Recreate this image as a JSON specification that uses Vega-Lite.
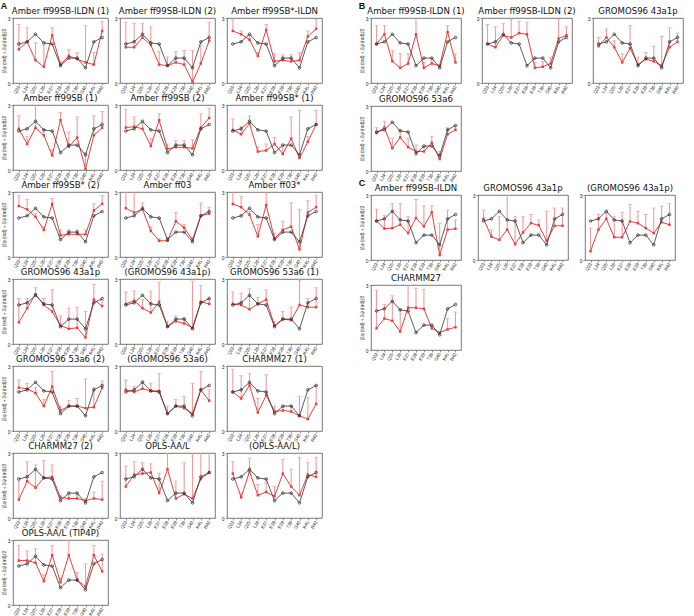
{
"$schema": "https://vega.github.io/schema/vega-lite/v6.json",
"padding": {"left": 0, "top": 2, "right": 0, "bottom": 0},
"config": {
 "font": "Liberation Sans",
 "view": {"stroke": "#555555", "strokeWidth": 0.8},
 "axis": {"labelFontSize": 4.5, "labelColor": "#222222", "tickSize": 2, "tickColor": "#555555", "tickWidth": 0.6, "domain": false, "grid": false, "labelPadding": 1, "labelOverlap": false, "titleFontSize": 4.5, "titleFontWeight": "normal", "titlePadding": 1, "titleColor": "#333333"},
 "axisY": {"labelFontSize": 5},
 "header": {"labelFontSize": 9.5, "labelFont": "Liberation Sans Narrow, DejaVu Sans Condensed, sans-serif", "labelColor": "#111111", "labelPadding": 1},
 "title": {"fontSize": 9, "fontWeight": "bold", "anchor": "start", "offset": -6, "color": "#111111"}
},
"data": {"values": [
{"p":"A|Amber ff99SB-ILDN (1)","r":"Q23","v":1.55,"hi":2.7,"e":1.8},
{"p":"A|Amber ff99SB-ILDN (1)","r":"L24","v":1.9,"hi":2.55,"e":1.9},
{"p":"A|Amber ff99SB-ILDN (1)","r":"Q25","v":1.05,"hi":1.85,"e":2.25},
{"p":"A|Amber ff99SB-ILDN (1)","r":"L26","v":0.75,"hi":1.75,"e":1.85},
{"p":"A|Amber ff99SB-ILDN (1)","r":"E27","v":2.2,"hi":2.55,"e":1.8},
{"p":"A|Amber ff99SB-ILDN (1)","r":"E28","v":0.85,"hi":1.0,"e":0.8},
{"p":"A|Amber ff99SB-ILDN (1)","r":"E29","v":1.25,"hi":1.55,"e":1.15},
{"p":"A|Amber ff99SB-ILDN (1)","r":"T36","v":1.1,"hi":1.4,"e":1.15},
{"p":"A|Amber ff99SB-ILDN (1)","r":"G40","v":0.95,"hi":2.65,"e":0.7},
{"p":"A|Amber ff99SB-ILDN (1)","r":"K41","v":0.85,"hi":1.4,"e":1.9},
{"p":"A|Amber ff99SB-ILDN (1)","r":"R42","v":2.4,"hi":2.85,"e":2.1},
{"p":"A|Amber ff99SB-ILDN (2)","r":"Q23","v":1.65,"hi":2.8,"e":1.8},
{"p":"A|Amber ff99SB-ILDN (2)","r":"L24","v":1.65,"hi":2.75,"e":1.9},
{"p":"A|Amber ff99SB-ILDN (2)","r":"Q25","v":2.1,"hi":2.75,"e":2.25},
{"p":"A|Amber ff99SB-ILDN (2)","r":"L26","v":1.75,"hi":2.6,"e":1.85},
{"p":"A|Amber ff99SB-ILDN (2)","r":"E27","v":0.85,"hi":1.45,"e":1.8},
{"p":"A|Amber ff99SB-ILDN (2)","r":"E28","v":0.8,"hi":1.2,"e":0.8},
{"p":"A|Amber ff99SB-ILDN (2)","r":"E29","v":0.95,"hi":1.45,"e":1.15},
{"p":"A|Amber ff99SB-ILDN (2)","r":"T36","v":0.85,"hi":1.5,"e":1.15},
{"p":"A|Amber ff99SB-ILDN (2)","r":"G40","v":0.05,"hi":1.5,"e":0.7},
{"p":"A|Amber ff99SB-ILDN (2)","r":"K41","v":0.9,"hi":1.75,"e":1.9},
{"p":"A|Amber ff99SB-ILDN (2)","r":"R42","v":1.95,"hi":2.8,"e":2.1},
{"p":"A|Amber ff99SB*-ILDN","r":"Q23","v":2.4,"hi":2.95,"e":1.8},
{"p":"A|Amber ff99SB*-ILDN","r":"L24","v":2.25,"hi":2.4,"e":1.9},
{"p":"A|Amber ff99SB*-ILDN","r":"Q25","v":2.0,"hi":2.2,"e":2.25},
{"p":"A|Amber ff99SB*-ILDN","r":"L26","v":1.25,"hi":1.4,"e":1.85},
{"p":"A|Amber ff99SB*-ILDN","r":"E27","v":2.45,"hi":2.7,"e":1.8},
{"p":"A|Amber ff99SB*-ILDN","r":"E28","v":1.0,"hi":1.35,"e":0.8},
{"p":"A|Amber ff99SB*-ILDN","r":"E29","v":1.05,"hi":1.3,"e":1.15},
{"p":"A|Amber ff99SB*-ILDN","r":"T36","v":1.0,"hi":1.3,"e":1.15},
{"p":"A|Amber ff99SB*-ILDN","r":"G40","v":1.05,"hi":1.4,"e":0.7},
{"p":"A|Amber ff99SB*-ILDN","r":"K41","v":2.15,"hi":2.4,"e":1.9},
{"p":"A|Amber ff99SB*-ILDN","r":"R42","v":2.5,"hi":2.95,"e":2.1},
{"p":"A|Amber ff99SB (1)","r":"Q23","v":1.9,"hi":2.5,"e":1.8},
{"p":"A|Amber ff99SB (1)","r":"L24","v":1.2,"hi":1.55,"e":1.9},
{"p":"A|Amber ff99SB (1)","r":"Q25","v":1.95,"hi":3.1,"e":2.25},
{"p":"A|Amber ff99SB (1)","r":"L26","v":1.6,"hi":1.85,"e":1.85},
{"p":"A|Amber ff99SB (1)","r":"E27","v":0.67,"hi":0.95,"e":1.8},
{"p":"A|Amber ff99SB (1)","r":"E28","v":2.3,"hi":2.65,"e":0.8},
{"p":"A|Amber ff99SB (1)","r":"E29","v":1.07,"hi":1.75,"e":1.15},
{"p":"A|Amber ff99SB (1)","r":"T36","v":1.5,"hi":2.45,"e":1.15},
{"p":"A|Amber ff99SB (1)","r":"G40","v":0.05,"hi":0.8,"e":0.7},
{"p":"A|Amber ff99SB (1)","r":"K41","v":1.6,"hi":2.5,"e":1.9},
{"p":"A|Amber ff99SB (1)","r":"R42","v":1.95,"hi":2.7,"e":2.1},
{"p":"A|Amber ff99SB (2)","r":"Q23","v":1.96,"hi":2.8,"e":1.8},
{"p":"A|Amber ff99SB (2)","r":"L24","v":2.0,"hi":2.45,"e":1.9},
{"p":"A|Amber ff99SB (2)","r":"Q25","v":1.9,"hi":2.15,"e":2.25},
{"p":"A|Amber ff99SB (2)","r":"L26","v":1.1,"hi":1.45,"e":1.85},
{"p":"A|Amber ff99SB (2)","r":"E27","v":2.3,"hi":2.6,"e":1.8},
{"p":"A|Amber ff99SB (2)","r":"E28","v":0.97,"hi":1.2,"e":0.8},
{"p":"A|Amber ff99SB (2)","r":"E29","v":1.05,"hi":1.35,"e":1.15},
{"p":"A|Amber ff99SB (2)","r":"T36","v":1.05,"hi":1.35,"e":1.15},
{"p":"A|Amber ff99SB (2)","r":"G40","v":1.0,"hi":1.4,"e":0.7},
{"p":"A|Amber ff99SB (2)","r":"K41","v":1.95,"hi":2.6,"e":1.9},
{"p":"A|Amber ff99SB (2)","r":"R42","v":2.4,"hi":2.85,"e":2.1},
{"p":"A|Amber ff99SB* (1)","r":"Q23","v":1.85,"hi":2.35,"e":1.8},
{"p":"A|Amber ff99SB* (1)","r":"L24","v":1.65,"hi":2.0,"e":1.9},
{"p":"A|Amber ff99SB* (1)","r":"Q25","v":2.15,"hi":2.5,"e":2.25},
{"p":"A|Amber ff99SB* (1)","r":"L26","v":0.85,"hi":1.05,"e":1.85},
{"p":"A|Amber ff99SB* (1)","r":"E27","v":0.9,"hi":1.2,"e":1.8},
{"p":"A|Amber ff99SB* (1)","r":"E28","v":1.2,"hi":1.5,"e":0.8},
{"p":"A|Amber ff99SB* (1)","r":"E29","v":0.75,"hi":1.05,"e":1.15},
{"p":"A|Amber ff99SB* (1)","r":"T36","v":1.45,"hi":2.45,"e":1.15},
{"p":"A|Amber ff99SB* (1)","r":"G40","v":0.55,"hi":2.75,"e":0.7},
{"p":"A|Amber ff99SB* (1)","r":"K41","v":1.3,"hi":1.55,"e":1.9},
{"p":"A|Amber ff99SB* (1)","r":"R42","v":2.1,"hi":2.75,"e":2.1},
{"p":"A|Amber ff99SB* (2)","r":"Q23","v":2.35,"hi":2.85,"e":1.8},
{"p":"A|Amber ff99SB* (2)","r":"L24","v":2.2,"hi":2.65,"e":1.9},
{"p":"A|Amber ff99SB* (2)","r":"Q25","v":1.85,"hi":2.0,"e":2.25},
{"p":"A|Amber ff99SB* (2)","r":"L26","v":1.25,"hi":1.4,"e":1.85},
{"p":"A|Amber ff99SB* (2)","r":"E27","v":2.45,"hi":2.7,"e":1.8},
{"p":"A|Amber ff99SB* (2)","r":"E28","v":1.0,"hi":1.25,"e":0.8},
{"p":"A|Amber ff99SB* (2)","r":"E29","v":1.05,"hi":1.25,"e":1.15},
{"p":"A|Amber ff99SB* (2)","r":"T36","v":1.05,"hi":1.25,"e":1.15},
{"p":"A|Amber ff99SB* (2)","r":"G40","v":1.05,"hi":1.25,"e":0.7},
{"p":"A|Amber ff99SB* (2)","r":"K41","v":2.15,"hi":2.45,"e":1.9},
{"p":"A|Amber ff99SB* (2)","r":"R42","v":2.45,"hi":2.85,"e":2.1},
{"p":"A|Amber ff03","r":"Q23","v":2.25,"hi":3.1,"e":1.8},
{"p":"A|Amber ff03","r":"L24","v":2.05,"hi":3.1,"e":1.9},
{"p":"A|Amber ff03","r":"Q25","v":2.2,"hi":2.5,"e":2.25},
{"p":"A|Amber ff03","r":"L26","v":1.2,"hi":1.4,"e":1.85},
{"p":"A|Amber ff03","r":"E27","v":0.75,"hi":0.85,"e":1.8},
{"p":"A|Amber ff03","r":"E28","v":0.75,"hi":0.9,"e":0.8},
{"p":"A|Amber ff03","r":"E29","v":1.65,"hi":2.05,"e":1.15},
{"p":"A|Amber ff03","r":"T36","v":1.35,"hi":1.5,"e":1.15},
{"p":"A|Amber ff03","r":"G40","v":0.8,"hi":0.9,"e":0.7},
{"p":"A|Amber ff03","r":"K41","v":1.9,"hi":2.5,"e":1.9},
{"p":"A|Amber ff03","r":"R42","v":2.0,"hi":2.3,"e":2.1},
{"p":"A|Amber ff03*","r":"Q23","v":2.45,"hi":3.1,"e":1.8},
{"p":"A|Amber ff03*","r":"L24","v":2.3,"hi":2.8,"e":1.9},
{"p":"A|Amber ff03*","r":"Q25","v":1.95,"hi":2.1,"e":2.25},
{"p":"A|Amber ff03*","r":"L26","v":0.95,"hi":1.5,"e":1.85},
{"p":"A|Amber ff03*","r":"E27","v":2.4,"hi":3.1,"e":1.8},
{"p":"A|Amber ff03*","r":"E28","v":0.85,"hi":1.1,"e":0.8},
{"p":"A|Amber ff03*","r":"E29","v":1.25,"hi":1.65,"e":1.15},
{"p":"A|Amber ff03*","r":"T36","v":1.4,"hi":2.5,"e":1.15},
{"p":"A|Amber ff03*","r":"G40","v":0.35,"hi":2.2,"e":0.7},
{"p":"A|Amber ff03*","r":"K41","v":2.05,"hi":2.6,"e":1.9},
{"p":"A|Amber ff03*","r":"R42","v":2.3,"hi":2.85,"e":2.1},
{"p":"A|GROMOS96 43a1p","r":"Q23","v":1.0,"hi":2.1,"e":1.8},
{"p":"A|GROMOS96 43a1p","r":"L24","v":1.65,"hi":2.1,"e":1.9},
{"p":"A|GROMOS96 43a1p","r":"Q25","v":2.3,"hi":2.6,"e":2.25},
{"p":"A|GROMOS96 43a1p","r":"L26","v":1.8,"hi":2.1,"e":1.85},
{"p":"A|GROMOS96 43a1p","r":"E27","v":1.5,"hi":2.5,"e":1.8},
{"p":"A|GROMOS96 43a1p","r":"E28","v":0.85,"hi":1.3,"e":0.8},
{"p":"A|GROMOS96 43a1p","r":"E29","v":0.7,"hi":1.65,"e":1.15},
{"p":"A|GROMOS96 43a1p","r":"T36","v":0.75,"hi":1.7,"e":1.15},
{"p":"A|GROMOS96 43a1p","r":"G40","v":0.3,"hi":1.5,"e":0.7},
{"p":"A|GROMOS96 43a1p","r":"K41","v":2.05,"hi":2.75,"e":1.9},
{"p":"A|GROMOS96 43a1p","r":"R42","v":1.75,"hi":2.0,"e":2.1},
{"p":"A|(GROMOS96 43a1p)","r":"Q23","v":1.85,"hi":2.4,"e":1.8},
{"p":"A|(GROMOS96 43a1p)","r":"L24","v":2.0,"hi":2.45,"e":1.9},
{"p":"A|(GROMOS96 43a1p)","r":"Q25","v":1.65,"hi":2.05,"e":2.25},
{"p":"A|(GROMOS96 43a1p)","r":"L26","v":1.45,"hi":2.45,"e":1.85},
{"p":"A|(GROMOS96 43a1p)","r":"E27","v":1.95,"hi":2.85,"e":1.8},
{"p":"A|(GROMOS96 43a1p)","r":"E28","v":0.8,"hi":1.05,"e":0.8},
{"p":"A|(GROMOS96 43a1p)","r":"E29","v":1.05,"hi":1.3,"e":1.15},
{"p":"A|(GROMOS96 43a1p)","r":"T36","v":0.95,"hi":1.2,"e":1.15},
{"p":"A|(GROMOS96 43a1p)","r":"G40","v":0.75,"hi":2.9,"e":0.7},
{"p":"A|(GROMOS96 43a1p)","r":"K41","v":1.95,"hi":2.7,"e":1.9},
{"p":"A|(GROMOS96 43a1p)","r":"R42","v":1.85,"hi":2.1,"e":2.1},
{"p":"A|GROMOS96 53a6 (1)","r":"Q23","v":1.85,"hi":2.4,"e":1.8},
{"p":"A|GROMOS96 53a6 (1)","r":"L24","v":1.8,"hi":2.35,"e":1.9},
{"p":"A|GROMOS96 53a6 (1)","r":"Q25","v":1.6,"hi":2.55,"e":2.25},
{"p":"A|GROMOS96 53a6 (1)","r":"L26","v":1.85,"hi":2.15,"e":1.85},
{"p":"A|GROMOS96 53a6 (1)","r":"E27","v":2.05,"hi":2.5,"e":1.8},
{"p":"A|GROMOS96 53a6 (1)","r":"E28","v":0.85,"hi":1.05,"e":0.8},
{"p":"A|GROMOS96 53a6 (1)","r":"E29","v":1.15,"hi":1.5,"e":1.15},
{"p":"A|GROMOS96 53a6 (1)","r":"T36","v":1.1,"hi":1.7,"e":1.15},
{"p":"A|GROMOS96 53a6 (1)","r":"G40","v":1.8,"hi":2.95,"e":0.7},
{"p":"A|GROMOS96 53a6 (1)","r":"K41","v":1.7,"hi":2.1,"e":1.9},
{"p":"A|GROMOS96 53a6 (1)","r":"R42","v":1.7,"hi":2.6,"e":2.1},
{"p":"A|GROMOS96 53a6 (2)","r":"Q23","v":2.0,"hi":2.35,"e":1.8},
{"p":"A|GROMOS96 53a6 (2)","r":"L24","v":1.95,"hi":2.2,"e":1.9},
{"p":"A|GROMOS96 53a6 (2)","r":"Q25","v":1.75,"hi":2.0,"e":2.25},
{"p":"A|GROMOS96 53a6 (2)","r":"L26","v":1.15,"hi":1.45,"e":1.85},
{"p":"A|GROMOS96 53a6 (2)","r":"E27","v":2.05,"hi":2.75,"e":1.8},
{"p":"A|GROMOS96 53a6 (2)","r":"E28","v":0.95,"hi":1.15,"e":0.8},
{"p":"A|GROMOS96 53a6 (2)","r":"E29","v":1.15,"hi":1.4,"e":1.15},
{"p":"A|GROMOS96 53a6 (2)","r":"T36","v":1.15,"hi":1.5,"e":1.15},
{"p":"A|GROMOS96 53a6 (2)","r":"G40","v":1.05,"hi":2.4,"e":0.7},
{"p":"A|GROMOS96 53a6 (2)","r":"K41","v":1.1,"hi":2.0,"e":1.9},
{"p":"A|GROMOS96 53a6 (2)","r":"R42","v":2.0,"hi":2.3,"e":2.1},
{"p":"A|(GROMOS96 53a6)","r":"Q23","v":1.9,"hi":2.35,"e":1.8},
{"p":"A|(GROMOS96 53a6)","r":"L24","v":1.8,"hi":2.05,"e":1.9},
{"p":"A|(GROMOS96 53a6)","r":"Q25","v":1.95,"hi":2.3,"e":2.25},
{"p":"A|(GROMOS96 53a6)","r":"L26","v":1.85,"hi":2.2,"e":1.85},
{"p":"A|(GROMOS96 53a6)","r":"E27","v":1.85,"hi":2.65,"e":1.8},
{"p":"A|(GROMOS96 53a6)","r":"E28","v":0.8,"hi":1.15,"e":0.8},
{"p":"A|(GROMOS96 53a6)","r":"E29","v":1.15,"hi":1.45,"e":1.15},
{"p":"A|(GROMOS96 53a6)","r":"T36","v":1.05,"hi":1.6,"e":1.15},
{"p":"A|(GROMOS96 53a6)","r":"G40","v":0.8,"hi":2.2,"e":0.7},
{"p":"A|(GROMOS96 53a6)","r":"K41","v":1.9,"hi":2.75,"e":1.9},
{"p":"A|(GROMOS96 53a6)","r":"R42","v":1.4,"hi":1.9,"e":2.1},
{"p":"A|CHARMM27 (1)","r":"Q23","v":1.8,"hi":2.85,"e":1.8},
{"p":"A|CHARMM27 (1)","r":"L24","v":1.5,"hi":2.55,"e":1.9},
{"p":"A|CHARMM27 (1)","r":"Q25","v":2.1,"hi":2.65,"e":2.25},
{"p":"A|CHARMM27 (1)","r":"L26","v":0.85,"hi":1.5,"e":1.85},
{"p":"A|CHARMM27 (1)","r":"E27","v":1.65,"hi":2.6,"e":1.8},
{"p":"A|CHARMM27 (1)","r":"E28","v":0.9,"hi":1.15,"e":0.8},
{"p":"A|CHARMM27 (1)","r":"E29","v":0.95,"hi":1.1,"e":1.15},
{"p":"A|CHARMM27 (1)","r":"T36","v":0.9,"hi":1.15,"e":1.15},
{"p":"A|CHARMM27 (1)","r":"G40","v":0.7,"hi":1.6,"e":0.7},
{"p":"A|CHARMM27 (1)","r":"K41","v":0.55,"hi":1.55,"e":1.9},
{"p":"A|CHARMM27 (1)","r":"R42","v":1.25,"hi":2.1,"e":2.1},
{"p":"A|CHARMM27 (2)","r":"Q23","v":0.85,"hi":1.7,"e":1.8},
{"p":"A|CHARMM27 (2)","r":"L24","v":1.7,"hi":2.6,"e":1.9},
{"p":"A|CHARMM27 (2)","r":"Q25","v":1.4,"hi":2.45,"e":2.25},
{"p":"A|CHARMM27 (2)","r":"L26","v":1.85,"hi":2.65,"e":1.85},
{"p":"A|CHARMM27 (2)","r":"E27","v":1.9,"hi":2.45,"e":1.8},
{"p":"A|CHARMM27 (2)","r":"E28","v":0.95,"hi":1.05,"e":0.8},
{"p":"A|CHARMM27 (2)","r":"E29","v":0.9,"hi":1.05,"e":1.15},
{"p":"A|CHARMM27 (2)","r":"T36","v":0.9,"hi":1.05,"e":1.15},
{"p":"A|CHARMM27 (2)","r":"G40","v":0.8,"hi":0.9,"e":0.7},
{"p":"A|CHARMM27 (2)","r":"K41","v":0.9,"hi":1.2,"e":1.9},
{"p":"A|CHARMM27 (2)","r":"R42","v":0.85,"hi":1.7,"e":2.1},
{"p":"A|OPLS-AA/L","r":"Q23","v":1.45,"hi":2.4,"e":1.8},
{"p":"A|OPLS-AA/L","r":"L24","v":2.0,"hi":2.6,"e":1.9},
{"p":"A|OPLS-AA/L","r":"Q25","v":2.05,"hi":2.55,"e":2.25},
{"p":"A|OPLS-AA/L","r":"L26","v":2.1,"hi":2.5,"e":1.85},
{"p":"A|OPLS-AA/L","r":"E27","v":1.15,"hi":2.05,"e":1.8},
{"p":"A|OPLS-AA/L","r":"E28","v":2.25,"hi":3.1,"e":0.8},
{"p":"A|OPLS-AA/L","r":"E29","v":0.9,"hi":1.7,"e":1.15},
{"p":"A|OPLS-AA/L","r":"T36","v":1.1,"hi":2.55,"e":1.15},
{"p":"A|OPLS-AA/L","r":"G40","v":0.9,"hi":3.1,"e":0.7},
{"p":"A|OPLS-AA/L","r":"K41","v":1.8,"hi":3.1,"e":1.9},
{"p":"A|OPLS-AA/L","r":"R42","v":2.1,"hi":3.1,"e":2.1},
{"p":"A|(OPLS-AA/L)","r":"Q23","v":2.05,"hi":2.6,"e":1.8},
{"p":"A|(OPLS-AA/L)","r":"L24","v":0.95,"hi":1.15,"e":1.9},
{"p":"A|(OPLS-AA/L)","r":"Q25","v":2.15,"hi":2.75,"e":2.25},
{"p":"A|(OPLS-AA/L)","r":"L26","v":1.05,"hi":1.55,"e":1.85},
{"p":"A|(OPLS-AA/L)","r":"E27","v":1.2,"hi":1.65,"e":1.8},
{"p":"A|(OPLS-AA/L)","r":"E28","v":1.0,"hi":1.45,"e":0.8},
{"p":"A|(OPLS-AA/L)","r":"E29","v":2.05,"hi":2.7,"e":1.15},
{"p":"A|(OPLS-AA/L)","r":"T36","v":1.45,"hi":2.25,"e":1.15},
{"p":"A|(OPLS-AA/L)","r":"G40","v":1.05,"hi":2.8,"e":0.7},
{"p":"A|(OPLS-AA/L)","r":"K41","v":2.0,"hi":2.55,"e":1.9},
{"p":"A|(OPLS-AA/L)","r":"R42","v":1.9,"hi":2.8,"e":2.1},
{"p":"A|OPLS-AA/L (TIP4P)","r":"Q23","v":2.05,"hi":2.75,"e":1.8},
{"p":"A|OPLS-AA/L (TIP4P)","r":"L24","v":2.05,"hi":2.5,"e":1.9},
{"p":"A|OPLS-AA/L (TIP4P)","r":"Q25","v":1.95,"hi":2.6,"e":2.25},
{"p":"A|OPLS-AA/L (TIP4P)","r":"L26","v":1.1,"hi":1.4,"e":1.85},
{"p":"A|OPLS-AA/L (TIP4P)","r":"E27","v":2.3,"hi":2.75,"e":1.8},
{"p":"A|OPLS-AA/L (TIP4P)","r":"E28","v":1.05,"hi":1.25,"e":0.8},
{"p":"A|OPLS-AA/L (TIP4P)","r":"E29","v":2.3,"hi":3.1,"e":1.15},
{"p":"A|OPLS-AA/L (TIP4P)","r":"T36","v":1.15,"hi":1.5,"e":1.15},
{"p":"A|OPLS-AA/L (TIP4P)","r":"G40","v":0.85,"hi":1.9,"e":0.7},
{"p":"A|OPLS-AA/L (TIP4P)","r":"K41","v":2.3,"hi":2.75,"e":1.9},
{"p":"A|OPLS-AA/L (TIP4P)","r":"R42","v":1.55,"hi":2.35,"e":2.1},
{"p":"B|Amber ff99SB-ILDN (1)","r":"Q23","v":1.8,"hi":2.65,"e":1.8},
{"p":"B|Amber ff99SB-ILDN (1)","r":"L24","v":2.25,"hi":2.65,"e":1.9},
{"p":"B|Amber ff99SB-ILDN (1)","r":"Q25","v":1.0,"hi":1.5,"e":2.25},
{"p":"B|Amber ff99SB-ILDN (1)","r":"L26","v":0.7,"hi":1.35,"e":1.85},
{"p":"B|Amber ff99SB-ILDN (1)","r":"E27","v":0.9,"hi":1.35,"e":1.8},
{"p":"B|Amber ff99SB-ILDN (1)","r":"E28","v":2.25,"hi":3.1,"e":0.8},
{"p":"B|Amber ff99SB-ILDN (1)","r":"E29","v":0.7,"hi":0.95,"e":1.15},
{"p":"B|Amber ff99SB-ILDN (1)","r":"T36","v":0.9,"hi":1.05,"e":1.15},
{"p":"B|Amber ff99SB-ILDN (1)","r":"G40","v":0.8,"hi":0.85,"e":0.7},
{"p":"B|Amber ff99SB-ILDN (1)","r":"K41","v":2.35,"hi":2.65,"e":1.9},
{"p":"B|Amber ff99SB-ILDN (1)","r":"R42","v":0.95,"hi":1.35,"e":2.1},
{"p":"B|Amber ff99SB-ILDN (2)","r":"Q23","v":1.8,"hi":2.7,"e":1.8},
{"p":"B|Amber ff99SB-ILDN (2)","r":"L24","v":1.65,"hi":2.6,"e":1.9},
{"p":"B|Amber ff99SB-ILDN (2)","r":"Q25","v":2.2,"hi":2.75,"e":2.25},
{"p":"B|Amber ff99SB-ILDN (2)","r":"L26","v":2.1,"hi":2.95,"e":1.85},
{"p":"B|Amber ff99SB-ILDN (2)","r":"E27","v":2.3,"hi":2.85,"e":1.8},
{"p":"B|Amber ff99SB-ILDN (2)","r":"E28","v":2.25,"hi":2.8,"e":0.8},
{"p":"B|Amber ff99SB-ILDN (2)","r":"E29","v":0.7,"hi":0.95,"e":1.15},
{"p":"B|Amber ff99SB-ILDN (2)","r":"T36","v":0.75,"hi":1.0,"e":1.15},
{"p":"B|Amber ff99SB-ILDN (2)","r":"G40","v":0.9,"hi":1.2,"e":0.7},
{"p":"B|Amber ff99SB-ILDN (2)","r":"K41","v":2.05,"hi":2.95,"e":1.9},
{"p":"B|Amber ff99SB-ILDN (2)","r":"R42","v":2.2,"hi":2.6,"e":2.1},
{"p":"B|GROMOS96 43a1p","r":"Q23","v":1.7,"hi":2.1,"e":1.8},
{"p":"B|GROMOS96 43a1p","r":"L24","v":2.1,"hi":2.5,"e":1.9},
{"p":"B|GROMOS96 43a1p","r":"Q25","v":1.65,"hi":1.95,"e":2.25},
{"p":"B|GROMOS96 43a1p","r":"L26","v":0.95,"hi":1.35,"e":1.85},
{"p":"B|GROMOS96 43a1p","r":"E27","v":1.6,"hi":2.65,"e":1.8},
{"p":"B|GROMOS96 43a1p","r":"E28","v":0.85,"hi":1.2,"e":0.8},
{"p":"B|GROMOS96 43a1p","r":"E29","v":1.1,"hi":1.4,"e":1.15},
{"p":"B|GROMOS96 43a1p","r":"T36","v":1.0,"hi":1.7,"e":1.15},
{"p":"B|GROMOS96 43a1p","r":"G40","v":0.8,"hi":2.15,"e":0.7},
{"p":"B|GROMOS96 43a1p","r":"K41","v":1.65,"hi":2.55,"e":1.9},
{"p":"B|GROMOS96 43a1p","r":"R42","v":1.9,"hi":2.3,"e":2.1},
{"p":"B|GROMOS96 53a6","r":"Q23","v":1.75,"hi":2.0,"e":1.8},
{"p":"B|GROMOS96 53a6","r":"L24","v":2.0,"hi":2.3,"e":1.9},
{"p":"B|GROMOS96 53a6","r":"Q25","v":1.05,"hi":1.5,"e":2.25},
{"p":"B|GROMOS96 53a6","r":"L26","v":1.55,"hi":1.9,"e":1.85},
{"p":"B|GROMOS96 53a6","r":"E27","v":1.1,"hi":1.5,"e":1.8},
{"p":"B|GROMOS96 53a6","r":"E28","v":0.9,"hi":1.2,"e":0.8},
{"p":"B|GROMOS96 53a6","r":"E29","v":0.9,"hi":1.1,"e":1.15},
{"p":"B|GROMOS96 53a6","r":"T36","v":1.3,"hi":1.6,"e":1.15},
{"p":"B|GROMOS96 53a6","r":"G40","v":0.55,"hi":0.9,"e":0.7},
{"p":"B|GROMOS96 53a6","r":"K41","v":1.7,"hi":2.0,"e":1.9},
{"p":"B|GROMOS96 53a6","r":"R42","v":1.9,"hi":2.1,"e":2.1},
{"p":"C|Amber ff99SB-ILDN","r":"Q23","v":1.8,"hi":2.35,"e":1.8},
{"p":"C|Amber ff99SB-ILDN","r":"L24","v":1.45,"hi":2.05,"e":1.9},
{"p":"C|Amber ff99SB-ILDN","r":"Q25","v":1.47,"hi":2.6,"e":2.25},
{"p":"C|Amber ff99SB-ILDN","r":"L26","v":1.63,"hi":2.6,"e":1.85},
{"p":"C|Amber ff99SB-ILDN","r":"E27","v":1.24,"hi":2.0,"e":1.8},
{"p":"C|Amber ff99SB-ILDN","r":"E28","v":1.94,"hi":2.8,"e":0.8},
{"p":"C|Amber ff99SB-ILDN","r":"E29","v":1.55,"hi":2.5,"e":1.15},
{"p":"C|Amber ff99SB-ILDN","r":"T36","v":2.2,"hi":2.5,"e":1.15},
{"p":"C|Amber ff99SB-ILDN","r":"G40","v":0.23,"hi":1.7,"e":0.7},
{"p":"C|Amber ff99SB-ILDN","r":"K41","v":1.4,"hi":2.3,"e":1.9},
{"p":"C|Amber ff99SB-ILDN","r":"R42","v":1.44,"hi":1.85,"e":2.1},
{"p":"C|GROMOS96 43a1p","r":"Q23","v":1.9,"hi":2.3,"e":1.8},
{"p":"C|GROMOS96 43a1p","r":"L24","v":1.08,"hi":1.4,"e":1.9},
{"p":"C|GROMOS96 43a1p","r":"Q25","v":0.93,"hi":2.0,"e":2.25},
{"p":"C|GROMOS96 43a1p","r":"L26","v":1.4,"hi":3.1,"e":1.85},
{"p":"C|GROMOS96 43a1p","r":"E27","v":0.73,"hi":2.0,"e":1.8},
{"p":"C|GROMOS96 43a1p","r":"E28","v":1.27,"hi":2.0,"e":0.8},
{"p":"C|GROMOS96 43a1p","r":"E29","v":1.7,"hi":2.1,"e":1.15},
{"p":"C|GROMOS96 43a1p","r":"T36","v":1.6,"hi":1.85,"e":1.15},
{"p":"C|GROMOS96 43a1p","r":"G40","v":0.88,"hi":2.25,"e":0.7},
{"p":"C|GROMOS96 43a1p","r":"K41","v":1.58,"hi":2.4,"e":1.9},
{"p":"C|GROMOS96 43a1p","r":"R42","v":1.58,"hi":2.4,"e":2.1},
{"p":"C|(GROMOS96 43a1p)","r":"Q23","v":0.4,"hi":1.47,"e":1.8},
{"p":"C|(GROMOS96 43a1p)","r":"L24","v":1.4,"hi":2.1,"e":1.9},
{"p":"C|(GROMOS96 43a1p)","r":"Q25","v":1.9,"hi":2.17,"e":2.25},
{"p":"C|(GROMOS96 43a1p)","r":"L26","v":1.05,"hi":2.0,"e":1.85},
{"p":"C|(GROMOS96 43a1p)","r":"E27","v":1.05,"hi":2.2,"e":1.8},
{"p":"C|(GROMOS96 43a1p)","r":"E28","v":1.78,"hi":2.56,"e":0.8},
{"p":"C|(GROMOS96 43a1p)","r":"E29","v":1.7,"hi":2.25,"e":1.15},
{"p":"C|(GROMOS96 43a1p)","r":"T36","v":1.47,"hi":2.1,"e":1.15},
{"p":"C|(GROMOS96 43a1p)","r":"G40","v":1.24,"hi":2.4,"e":0.7},
{"p":"C|(GROMOS96 43a1p)","r":"K41","v":1.74,"hi":2.48,"e":1.9},
{"p":"C|(GROMOS96 43a1p)","r":"R42","v":1.63,"hi":2.6,"e":2.1},
{"p":"C|CHARMM27","r":"Q23","v":1.0,"hi":2.75,"e":1.8},
{"p":"C|CHARMM27","r":"L24","v":1.45,"hi":2.1,"e":1.9},
{"p":"C|CHARMM27","r":"Q25","v":1.35,"hi":2.5,"e":2.25},
{"p":"C|CHARMM27","r":"L26","v":0.85,"hi":1.9,"e":1.85},
{"p":"C|CHARMM27","r":"E27","v":1.95,"hi":3.1,"e":1.8},
{"p":"C|CHARMM27","r":"E28","v":1.95,"hi":2.85,"e":0.8},
{"p":"C|CHARMM27","r":"E29","v":1.9,"hi":2.8,"e":1.15},
{"p":"C|CHARMM27","r":"T36","v":1.0,"hi":1.1,"e":1.15},
{"p":"C|CHARMM27","r":"G40","v":0.8,"hi":0.85,"e":0.7},
{"p":"C|CHARMM27","r":"K41","v":0.95,"hi":1.45,"e":1.9},
{"p":"C|CHARMM27","r":"R42","v":1.05,"hi":1.75,"e":2.1}
]},
"spacing": 35,
"hconcat": [
 {"title": "A", "spacing": 3, "hconcat": [
  {"transform": [{"filter": {"field": "p", "oneOf": ["A|Amber ff99SB-ILDN (1)","A|Amber ff99SB (1)","A|Amber ff99SB* (2)","A|GROMOS96 43a1p","A|GROMOS96 53a6 (2)","A|CHARMM27 (2)","A|OPLS-AA/L (TIP4P)"]}}],
   "facet": {"field": "p", "type": "nominal", "sort": ["A|Amber ff99SB-ILDN (1)","A|Amber ff99SB (1)","A|Amber ff99SB* (2)","A|GROMOS96 43a1p","A|GROMOS96 53a6 (2)","A|CHARMM27 (2)","A|OPLS-AA/L (TIP4P)"], "header": {"title": null, "labelExpr": "split(datum.value, '|')[1]"}},
   "columns": 1, "spacing": 22, "bounds": "flush",
   "resolve": {"axis": {"x": "independent", "y": "independent"}},
   "spec": {"width": 95, "height": 65,
    "encoding": {"x": {"field": "r", "type": "ordinal", "scale": {"type": "point", "padding": 0.7, "domain": ["Q23","L24","Q25","L26","E27","E28","E29","T36","G40","K41","R42"]}, "axis": {"title": null, "labelAngle": -60}}},
    "layer": [
     {"mark": {"type": "rule", "color": "#f59a9a", "strokeWidth": 1.1, "clip": true}, "encoding": {"y": {"field": "v", "type": "quantitative", "scale": {"domain": [0, 3], "nice": false}, "axis": {"values": [0, 0.5, 1, 1.5, 2, 2.5, 3], "format": "~g", "title": "|Δφ (rad) + Δψ (rad)|/2"}}, "y2": {"field": "hi"}}},
     {"mark": {"type": "tick", "orient": "horizontal", "size": 4, "thickness": 1, "color": "#f59a9a", "clip": true}, "encoding": {"y": {"field": "hi", "type": "quantitative"}}},
     {"mark": {"type": "line", "color": "#e8403a", "strokeWidth": 1}, "encoding": {"y": {"field": "v", "type": "quantitative"}}},
     {"mark": {"type": "point", "shape": "square", "filled": true, "size": 6, "color": "#e8403a", "opacity": 1}, "encoding": {"y": {"field": "v", "type": "quantitative"}}},
     {"mark": {"type": "line", "color": "#333333", "strokeWidth": 0.8}, "encoding": {"y": {"field": "e", "type": "quantitative"}}},
     {"mark": {"type": "point", "shape": "circle", "filled": false, "size": 7, "color": "#222222", "strokeWidth": 0.7, "opacity": 1}, "encoding": {"y": {"field": "e", "type": "quantitative"}}}
    ]}},
  {"transform": [{"filter": {"field": "p", "oneOf": ["A|Amber ff99SB-ILDN (2)","A|Amber ff99SB (2)","A|Amber ff03","A|(GROMOS96 43a1p)","A|(GROMOS96 53a6)","A|OPLS-AA/L"]}}],
   "facet": {"field": "p", "type": "nominal", "sort": ["A|Amber ff99SB-ILDN (2)","A|Amber ff99SB (2)","A|Amber ff03","A|(GROMOS96 43a1p)","A|(GROMOS96 53a6)","A|OPLS-AA/L"], "header": {"title": null, "labelExpr": "split(datum.value, '|')[1]"}},
   "columns": 1, "spacing": 22, "bounds": "flush",
   "resolve": {"axis": {"x": "independent", "y": "independent"}},
   "spec": {"width": 95, "height": 65,
    "encoding": {"x": {"field": "r", "type": "ordinal", "scale": {"type": "point", "padding": 0.7, "domain": ["Q23","L24","Q25","L26","E27","E28","E29","T36","G40","K41","R42"]}, "axis": {"title": null, "labelAngle": -60}}},
    "layer": [
     {"mark": {"type": "rule", "color": "#f59a9a", "strokeWidth": 1.1, "clip": true}, "encoding": {"y": {"field": "v", "type": "quantitative", "scale": {"domain": [0, 3], "nice": false}, "axis": {"values": [0, 0.5, 1, 1.5, 2, 2.5, 3], "format": "~g", "title": ""}}, "y2": {"field": "hi"}}},
     {"mark": {"type": "tick", "orient": "horizontal", "size": 4, "thickness": 1, "color": "#f59a9a", "clip": true}, "encoding": {"y": {"field": "hi", "type": "quantitative"}}},
     {"mark": {"type": "line", "color": "#e8403a", "strokeWidth": 1}, "encoding": {"y": {"field": "v", "type": "quantitative"}}},
     {"mark": {"type": "point", "shape": "square", "filled": true, "size": 6, "color": "#e8403a", "opacity": 1}, "encoding": {"y": {"field": "v", "type": "quantitative"}}},
     {"mark": {"type": "line", "color": "#333333", "strokeWidth": 0.8}, "encoding": {"y": {"field": "e", "type": "quantitative"}}},
     {"mark": {"type": "point", "shape": "circle", "filled": false, "size": 7, "color": "#222222", "strokeWidth": 0.7, "opacity": 1}, "encoding": {"y": {"field": "e", "type": "quantitative"}}}
    ]}},
  {"transform": [{"filter": {"field": "p", "oneOf": ["A|Amber ff99SB*-ILDN","A|Amber ff99SB* (1)","A|Amber ff03*","A|GROMOS96 53a6 (1)","A|CHARMM27 (1)","A|(OPLS-AA/L)"]}}],
   "facet": {"field": "p", "type": "nominal", "sort": ["A|Amber ff99SB*-ILDN","A|Amber ff99SB* (1)","A|Amber ff03*","A|GROMOS96 53a6 (1)","A|CHARMM27 (1)","A|(OPLS-AA/L)"], "header": {"title": null, "labelExpr": "split(datum.value, '|')[1]"}},
   "columns": 1, "spacing": 22, "bounds": "flush",
   "resolve": {"axis": {"x": "independent", "y": "independent"}},
   "spec": {"width": 95, "height": 65,
    "encoding": {"x": {"field": "r", "type": "ordinal", "scale": {"type": "point", "padding": 0.7, "domain": ["Q23","L24","Q25","L26","E27","E28","E29","T36","G40","K41","R42"]}, "axis": {"title": null, "labelAngle": -60}}},
    "layer": [
     {"mark": {"type": "rule", "color": "#f59a9a", "strokeWidth": 1.1, "clip": true}, "encoding": {"y": {"field": "v", "type": "quantitative", "scale": {"domain": [0, 3], "nice": false}, "axis": {"values": [0, 0.5, 1, 1.5, 2, 2.5, 3], "format": "~g", "title": ""}}, "y2": {"field": "hi"}}},
     {"mark": {"type": "tick", "orient": "horizontal", "size": 4, "thickness": 1, "color": "#f59a9a", "clip": true}, "encoding": {"y": {"field": "hi", "type": "quantitative"}}},
     {"mark": {"type": "line", "color": "#e8403a", "strokeWidth": 1}, "encoding": {"y": {"field": "v", "type": "quantitative"}}},
     {"mark": {"type": "point", "shape": "square", "filled": true, "size": 6, "color": "#e8403a", "opacity": 1}, "encoding": {"y": {"field": "v", "type": "quantitative"}}},
     {"mark": {"type": "line", "color": "#333333", "strokeWidth": 0.8}, "encoding": {"y": {"field": "e", "type": "quantitative"}}},
     {"mark": {"type": "point", "shape": "circle", "filled": false, "size": 7, "color": "#222222", "strokeWidth": 0.7, "opacity": 1}, "encoding": {"y": {"field": "e", "type": "quantitative"}}}
    ]}}
 ]},
 {"spacing": -4, "vconcat": [
  {"title": "B", "spacing": 9, "hconcat": [
   {"transform": [{"filter": {"field": "p", "oneOf": ["B|Amber ff99SB-ILDN (1)","B|GROMOS96 53a6"]}}],
    "facet": {"field": "p", "type": "nominal", "sort": ["B|Amber ff99SB-ILDN (1)","B|GROMOS96 53a6"], "header": {"title": null, "labelExpr": "split(datum.value, '|')[1]"}},
    "columns": 1, "spacing": 23, "bounds": "flush",
    "resolve": {"axis": {"x": "independent", "y": "independent"}},
    "spec": {"width": 90, "height": 65,
     "encoding": {"x": {"field": "r", "type": "ordinal", "scale": {"type": "point", "padding": 0.7, "domain": ["Q23","L24","Q25","L26","E27","E28","E29","T36","G40","K41","R42"]}, "axis": {"title": null, "labelAngle": -60}}},
     "layer": [
      {"mark": {"type": "rule", "color": "#f59a9a", "strokeWidth": 1.1, "clip": true}, "encoding": {"y": {"field": "v", "type": "quantitative", "scale": {"domain": [0, 3], "nice": false}, "axis": {"values": [0, 0.5, 1, 1.5, 2, 2.5, 3], "format": "~g", "title": "|Δφ (rad) + Δψ (rad)|/2"}}, "y2": {"field": "hi"}}},
      {"mark": {"type": "tick", "orient": "horizontal", "size": 4, "thickness": 1, "color": "#f59a9a", "clip": true}, "encoding": {"y": {"field": "hi", "type": "quantitative"}}},
      {"mark": {"type": "line", "color": "#e8403a", "strokeWidth": 1}, "encoding": {"y": {"field": "v", "type": "quantitative"}}},
      {"mark": {"type": "point", "shape": "square", "filled": true, "size": 6, "color": "#e8403a", "opacity": 1}, "encoding": {"y": {"field": "v", "type": "quantitative"}}},
      {"mark": {"type": "line", "color": "#333333", "strokeWidth": 0.8}, "encoding": {"y": {"field": "e", "type": "quantitative"}}},
      {"mark": {"type": "point", "shape": "circle", "filled": false, "size": 7, "color": "#222222", "strokeWidth": 0.7, "opacity": 1}, "encoding": {"y": {"field": "e", "type": "quantitative"}}}
     ]}},
   {"transform": [{"filter": {"field": "p", "oneOf": ["B|Amber ff99SB-ILDN (2)"]}}],
    "facet": {"field": "p", "type": "nominal", "header": {"title": null, "labelExpr": "split(datum.value, '|')[1]"}},
    "columns": 1, "spacing": 23, "bounds": "flush",
    "resolve": {"axis": {"x": "independent", "y": "independent"}},
    "spec": {"width": 90, "height": 65,
     "encoding": {"x": {"field": "r", "type": "ordinal", "scale": {"type": "point", "padding": 0.7, "domain": ["Q23","L24","Q25","L26","E27","E28","E29","T36","G40","K41","R42"]}, "axis": {"title": null, "labelAngle": -60}}},
     "layer": [
      {"mark": {"type": "rule", "color": "#f59a9a", "strokeWidth": 1.1, "clip": true}, "encoding": {"y": {"field": "v", "type": "quantitative", "scale": {"domain": [0, 3], "nice": false}, "axis": {"values": [0, 0.5, 1, 1.5, 2, 2.5, 3], "format": "~g", "title": ""}}, "y2": {"field": "hi"}}},
      {"mark": {"type": "tick", "orient": "horizontal", "size": 4, "thickness": 1, "color": "#f59a9a", "clip": true}, "encoding": {"y": {"field": "hi", "type": "quantitative"}}},
      {"mark": {"type": "line", "color": "#e8403a", "strokeWidth": 1}, "encoding": {"y": {"field": "v", "type": "quantitative"}}},
      {"mark": {"type": "point", "shape": "square", "filled": true, "size": 6, "color": "#e8403a", "opacity": 1}, "encoding": {"y": {"field": "v", "type": "quantitative"}}},
      {"mark": {"type": "line", "color": "#333333", "strokeWidth": 0.8}, "encoding": {"y": {"field": "e", "type": "quantitative"}}},
      {"mark": {"type": "point", "shape": "circle", "filled": false, "size": 7, "color": "#222222", "strokeWidth": 0.7, "opacity": 1}, "encoding": {"y": {"field": "e", "type": "quantitative"}}}
     ]}},
   {"transform": [{"filter": {"field": "p", "oneOf": ["B|GROMOS96 43a1p"]}}],
    "facet": {"field": "p", "type": "nominal", "header": {"title": null, "labelExpr": "split(datum.value, '|')[1]"}},
    "columns": 1, "spacing": 23, "bounds": "flush",
    "resolve": {"axis": {"x": "independent", "y": "independent"}},
    "spec": {"width": 90, "height": 65,
     "encoding": {"x": {"field": "r", "type": "ordinal", "scale": {"type": "point", "padding": 0.7, "domain": ["Q23","L24","Q25","L26","E27","E28","E29","T36","G40","K41","R42"]}, "axis": {"title": null, "labelAngle": -60}}},
     "layer": [
      {"mark": {"type": "rule", "color": "#f59a9a", "strokeWidth": 1.1, "clip": true}, "encoding": {"y": {"field": "v", "type": "quantitative", "scale": {"domain": [0, 3], "nice": false}, "axis": {"values": [0, 0.5, 1, 1.5, 2, 2.5, 3], "format": "~g", "title": ""}}, "y2": {"field": "hi"}}},
      {"mark": {"type": "tick", "orient": "horizontal", "size": 4, "thickness": 1, "color": "#f59a9a", "clip": true}, "encoding": {"y": {"field": "hi", "type": "quantitative"}}},
      {"mark": {"type": "line", "color": "#e8403a", "strokeWidth": 1}, "encoding": {"y": {"field": "v", "type": "quantitative"}}},
      {"mark": {"type": "point", "shape": "square", "filled": true, "size": 6, "color": "#e8403a", "opacity": 1}, "encoding": {"y": {"field": "v", "type": "quantitative"}}},
      {"mark": {"type": "line", "color": "#333333", "strokeWidth": 0.8}, "encoding": {"y": {"field": "e", "type": "quantitative"}}},
      {"mark": {"type": "point", "shape": "circle", "filled": false, "size": 7, "color": "#222222", "strokeWidth": 0.7, "opacity": 1}, "encoding": {"y": {"field": "e", "type": "quantitative"}}}
     ]}}
  ]},
  {"title": "C", "spacing": 9, "hconcat": [
   {"transform": [{"filter": {"field": "p", "oneOf": ["C|Amber ff99SB-ILDN","C|CHARMM27"]}}],
    "facet": {"field": "p", "type": "nominal", "sort": ["C|Amber ff99SB-ILDN","C|CHARMM27"], "header": {"title": null, "labelExpr": "split(datum.value, '|')[1]"}},
    "columns": 1, "spacing": 25, "bounds": "flush",
    "resolve": {"axis": {"x": "independent", "y": "independent"}},
    "spec": {"width": 90, "height": 65,
     "encoding": {"x": {"field": "r", "type": "ordinal", "scale": {"type": "point", "padding": 0.7, "domain": ["Q23","L24","Q25","L26","E27","E28","E29","T36","G40","K41","R42"]}, "axis": {"title": null, "labelAngle": -60}}},
     "layer": [
      {"mark": {"type": "rule", "color": "#f59a9a", "strokeWidth": 1.1, "clip": true}, "encoding": {"y": {"field": "v", "type": "quantitative", "scale": {"domain": [0, 3], "nice": false}, "axis": {"values": [0, 0.5, 1, 1.5, 2, 2.5, 3], "format": "~g", "title": "|Δφ (rad) + Δψ (rad)|/2"}}, "y2": {"field": "hi"}}},
      {"mark": {"type": "tick", "orient": "horizontal", "size": 4, "thickness": 1, "color": "#f59a9a", "clip": true}, "encoding": {"y": {"field": "hi", "type": "quantitative"}}},
      {"mark": {"type": "line", "color": "#e8403a", "strokeWidth": 1}, "encoding": {"y": {"field": "v", "type": "quantitative"}}},
      {"mark": {"type": "point", "shape": "square", "filled": true, "size": 6, "color": "#e8403a", "opacity": 1}, "encoding": {"y": {"field": "v", "type": "quantitative"}}},
      {"mark": {"type": "line", "color": "#333333", "strokeWidth": 0.8}, "encoding": {"y": {"field": "e", "type": "quantitative"}}},
      {"mark": {"type": "point", "shape": "circle", "filled": false, "size": 7, "color": "#222222", "strokeWidth": 0.7, "opacity": 1}, "encoding": {"y": {"field": "e", "type": "quantitative"}}}
     ]}},
   {"transform": [{"filter": {"field": "p", "oneOf": ["C|GROMOS96 43a1p"]}}],
    "facet": {"field": "p", "type": "nominal", "header": {"title": null, "labelExpr": "split(datum.value, '|')[1]"}},
    "columns": 1, "spacing": 25, "bounds": "flush",
    "resolve": {"axis": {"x": "independent", "y": "independent"}},
    "spec": {"width": 90, "height": 65,
     "encoding": {"x": {"field": "r", "type": "ordinal", "scale": {"type": "point", "padding": 0.7, "domain": ["Q23","L24","Q25","L26","E27","E28","E29","T36","G40","K41","R42"]}, "axis": {"title": null, "labelAngle": -60}}},
     "layer": [
      {"mark": {"type": "rule", "color": "#f59a9a", "strokeWidth": 1.1, "clip": true}, "encoding": {"y": {"field": "v", "type": "quantitative", "scale": {"domain": [0, 3], "nice": false}, "axis": {"values": [0, 0.5, 1, 1.5, 2, 2.5, 3], "format": "~g", "title": ""}}, "y2": {"field": "hi"}}},
      {"mark": {"type": "tick", "orient": "horizontal", "size": 4, "thickness": 1, "color": "#f59a9a", "clip": true}, "encoding": {"y": {"field": "hi", "type": "quantitative"}}},
      {"mark": {"type": "line", "color": "#e8403a", "strokeWidth": 1}, "encoding": {"y": {"field": "v", "type": "quantitative"}}},
      {"mark": {"type": "point", "shape": "square", "filled": true, "size": 6, "color": "#e8403a", "opacity": 1}, "encoding": {"y": {"field": "v", "type": "quantitative"}}},
      {"mark": {"type": "line", "color": "#333333", "strokeWidth": 0.8}, "encoding": {"y": {"field": "e", "type": "quantitative"}}},
      {"mark": {"type": "point", "shape": "circle", "filled": false, "size": 7, "color": "#222222", "strokeWidth": 0.7, "opacity": 1}, "encoding": {"y": {"field": "e", "type": "quantitative"}}}
     ]}},
   {"transform": [{"filter": {"field": "p", "oneOf": ["C|(GROMOS96 43a1p)"]}}],
    "facet": {"field": "p", "type": "nominal", "header": {"title": null, "labelExpr": "split(datum.value, '|')[1]"}},
    "columns": 1, "spacing": 25, "bounds": "flush",
    "resolve": {"axis": {"x": "independent", "y": "independent"}},
    "spec": {"width": 90, "height": 65,
     "encoding": {"x": {"field": "r", "type": "ordinal", "scale": {"type": "point", "padding": 0.7, "domain": ["Q23","L24","Q25","L26","E27","E28","E29","T36","G40","K41","R42"]}, "axis": {"title": null, "labelAngle": -60}}},
     "layer": [
      {"mark": {"type": "rule", "color": "#f59a9a", "strokeWidth": 1.1, "clip": true}, "encoding": {"y": {"field": "v", "type": "quantitative", "scale": {"domain": [0, 3], "nice": false}, "axis": {"values": [0, 0.5, 1, 1.5, 2, 2.5, 3], "format": "~g", "title": ""}}, "y2": {"field": "hi"}}},
      {"mark": {"type": "tick", "orient": "horizontal", "size": 4, "thickness": 1, "color": "#f59a9a", "clip": true}, "encoding": {"y": {"field": "hi", "type": "quantitative"}}},
      {"mark": {"type": "line", "color": "#e8403a", "strokeWidth": 1}, "encoding": {"y": {"field": "v", "type": "quantitative"}}},
      {"mark": {"type": "point", "shape": "square", "filled": true, "size": 6, "color": "#e8403a", "opacity": 1}, "encoding": {"y": {"field": "v", "type": "quantitative"}}},
      {"mark": {"type": "line", "color": "#333333", "strokeWidth": 0.8}, "encoding": {"y": {"field": "e", "type": "quantitative"}}},
      {"mark": {"type": "point", "shape": "circle", "filled": false, "size": 7, "color": "#222222", "strokeWidth": 0.7, "opacity": 1}, "encoding": {"y": {"field": "e", "type": "quantitative"}}}
     ]}}
  ]}
 ]}
]
}
